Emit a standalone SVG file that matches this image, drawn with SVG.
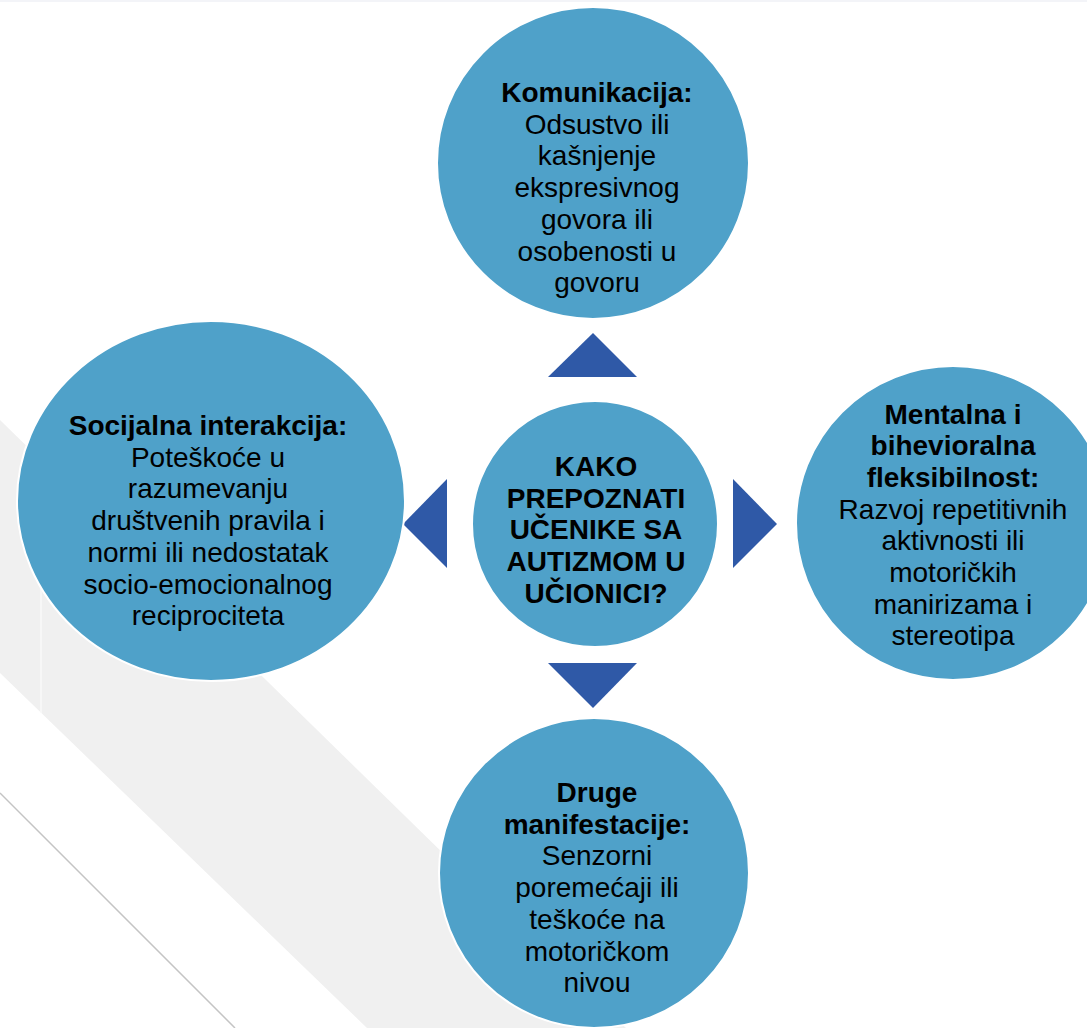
<svg xmlns="http://www.w3.org/2000/svg" width="1087" height="1028" viewBox="0 0 1087 1028">
  <style>
    .bg { fill: #ffffff; }
    .band { fill: #f0f0f0; }
    .node { fill: #4fa1c9; stroke: #ffffff; stroke-width: 2; }
    .arrow { fill: #2f59a7; }
    text { font-family: "Liberation Sans", Arial, sans-serif; font-size: 28px; fill: #000000; text-anchor: middle; }
    .b { font-weight: bold; }
  </style>
  <g id="background">
    <rect class="bg" x="0" y="0" width="1087" height="1028"/>
    <rect x="0" y="0" width="1087" height="2" fill="#f3f4f8"/>
    <polygon class="band" points="0,420 450,860 626,1028 367,1028 0,673"/>
    <line x1="41" y1="540" x2="41" y2="713" stroke="#fafafa" stroke-width="1.5"/>
    <line x1="0" y1="793" x2="235" y2="1028" stroke="#c4c4c4" stroke-width="1.5"/>
  </g>
  <g id="connectors">
    <polygon class="arrow" points="593,333 548,377 637,377"/>
    <polygon class="arrow" points="403,524 447,479 447,568"/>
    <polygon class="arrow" points="777,524 733,479 733,568"/>
    <polygon class="arrow" points="593,708 548,663 637,663"/>
  </g>
  <g id="node-komunikacija">
    <circle class="node" cx="593" cy="163" r="156"/>
    <text x="597" y="102"><tspan class="b">Komunikacija:</tspan><tspan x="597" dy="31.7">Odsustvo ili</tspan><tspan x="597" dy="31.7">kašnjenje</tspan><tspan x="597" dy="31.7">ekspresivnog</tspan><tspan x="597" dy="31.7">govora ili</tspan><tspan x="597" dy="31.7">osobenosti u</tspan><tspan x="597" dy="31.7">govoru</tspan></text>
  </g>
  <g id="node-socijalna">
    <ellipse class="node" cx="211" cy="501" rx="194" ry="180"/>
    <text x="208" y="435"><tspan class="b">Socijalna interakcija:</tspan><tspan x="208" dy="31.7">Poteškoće u</tspan><tspan x="208" dy="31.7">razumevanju</tspan><tspan x="208" dy="31.7">društvenih pravila i</tspan><tspan x="208" dy="31.7">normi ili nedostatak</tspan><tspan x="208" dy="31.7">socio-emocionalnog</tspan><tspan x="208" dy="31.7">reciprociteta</tspan></text>
  </g>
  <g id="node-center">
    <circle class="node" cx="595" cy="524" r="123"/>
    <text class="b" x="596" y="476"><tspan>KAKO</tspan><tspan x="596" dy="31.7">PREPOZNATI</tspan><tspan x="596" dy="31.7">UČENIKE SA</tspan><tspan x="596" dy="31.7">AUTIZMOM U</tspan><tspan x="596" dy="31.7">UČIONICI?</tspan></text>
  </g>
  <g id="node-mentalna">
    <circle class="node" cx="953" cy="523" r="157"/>
    <text x="953" y="423.5"><tspan class="b">Mentalna i</tspan><tspan class="b" x="953" dy="31.7">bihevioralna</tspan><tspan class="b" x="953" dy="31.7">fleksibilnost:</tspan><tspan x="953" dy="31.7">Razvoj repetitivnih</tspan><tspan x="953" dy="31.7">aktivnosti ili</tspan><tspan x="953" dy="31.7">motoričkih</tspan><tspan x="953" dy="31.7">manirizama i</tspan><tspan x="953" dy="31.7">stereotipa</tspan></text>
  </g>
  <g id="node-druge">
    <circle class="node" cx="594" cy="873" r="155"/>
    <text x="597" y="802"><tspan class="b">Druge</tspan><tspan class="b" x="597" dy="31.7">manifestacije:</tspan><tspan x="597" dy="31.7">Senzorni</tspan><tspan x="597" dy="31.7">poremećaji ili</tspan><tspan x="597" dy="31.7">teškoće na</tspan><tspan x="597" dy="31.7">motoričkom</tspan><tspan x="597" dy="31.7">nivou</tspan></text>
  </g>
</svg>
